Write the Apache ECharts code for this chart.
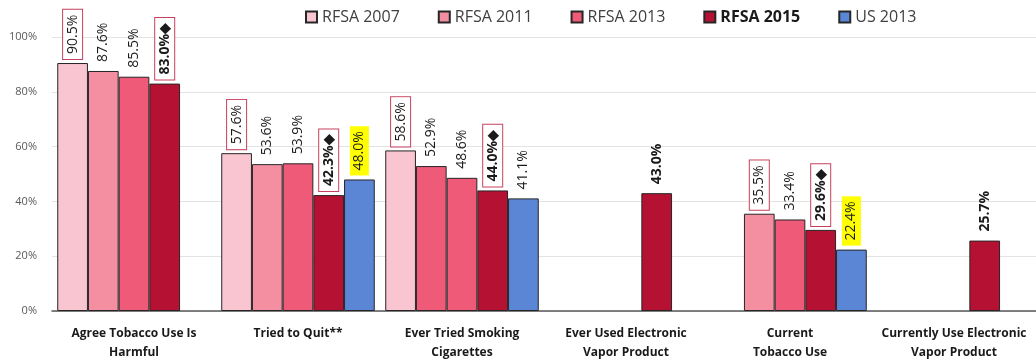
<!DOCTYPE html>
<html>
<head>
<meta charset="utf-8">
<script src="https://cdn.jsdelivr.net/npm/echarts@6/dist/echarts.min.js"></script>
<style>
  html, body { margin: 0; padding: 0; background: #fff; }
  #chartmain { width: 1036px; height: 362px; }
</style>
</head>
<body>
<div id="chartmain"></div>
<script>
var categories = ['Agree Tobacco Use Is\nHarmful', 'Tried to Quit**', 'Ever Tried Smoking\nCigarettes',
  'Ever Used Electronic\nVapor Product', 'Current\nTobacco Use', 'Currently Use Electronic\nVapor Product'];
var seriesNames = ['RFSA 2007', 'RFSA 2011', 'RFSA 2013', 'RFSA 2015', 'US 2013'];
var rfsa2007 = [90.5, 57.6, 58.6, null, null, null];
var rfsa2011 = [87.6, 53.6, 52.9, null, 35.5, null];
var rfsa2013 = [85.5, 53.9, 48.6, null, 33.4, null];
var rfsa2015 = [83.0, 42.3, 44.0, 43.0, 29.6, 25.7];
var us2013 = [null, 48.0, 41.1, null, 22.4, null];
var yTicks = [0, 20, 40, 60, 80, 100];

var colors = ['#F8C5D0', '#F48FA2', '#EE5A78', '#B51233', '#5B86D6'];
var boxColor = '#C8405F';

// which labels get a red box / yellow highlight (by series, category index)
var boxed = { 0: [0, 1, 2], 1: [4], 3: [0, 1, 2, 4] };
var yellow = { 4: [1, 4] };

function buildData(values, s) {
  return values.map(function (v, i) {
    if (v === null) return '-';
    var item = { value: v };
    var lab = {};
    if (boxed[s] && boxed[s].indexOf(i) >= 0) {
      lab.borderColor = boxColor;
      lab.borderWidth = 1;
      lab.backgroundColor = '#fff';
    }
    if (yellow[s] && yellow[s].indexOf(i) >= 0) {
      lab.backgroundColor = '#FFFF00';
    }
    item.label = lab;
    // the 2011 bar of "Ever Tried Smoking" is drawn in the 2013 colour
    if (s === 1 && i === 2) item.itemStyle = { color: colors[2] };
    return item;
  });
}

var allValues = [rfsa2007, rfsa2011, rfsa2013, rfsa2015, us2013];
var series = [];
for (var s = 0; s < allValues.length; s++) {
  (function (s) {
    series.push({
      name: seriesNames[s],
      type: 'bar',
      data: buildData(allValues[s], s),
      barGap: '0%',
      barCategoryGap: '6.4%',
      itemStyle: { color: colors[s], borderColor: '#262626', borderWidth: 1 },
      label: {
        show: true,
        position: 'top',
        rotate: 90,
        align: 'left',
        verticalAlign: 'middle',
        distance: 4,
        padding: [3, 5, 2, 5],
        fontFamily: 'Open Sans',
        fontSize: 14,
        color: '#1a1a1a',
        fontWeight: s === 3 ? 'bold' : 'normal',
        formatter: function (p) {
          var txt = p.value.toFixed(1) + '%';
          if (s === 3 && boxed[3].indexOf(p.dataIndex) >= 0) txt += '◆';
          return txt;
        }
      }
    });
  })(s);
}

var option = {
  animation: false,
  legend: {
    data: seriesNames,
    left: 300,
    top: 4,
    icon: 'rect',
    itemWidth: 11,
    itemHeight: 11,
    itemGap: 38,
    textStyle: {
      fontFamily: 'Open Sans',
      fontSize: 16,
      color: '#404040',
      rich: { b: { fontFamily: 'Open Sans', fontSize: 16, fontWeight: 'bold', color: '#1a1a1a' } }
    },
    formatter: function (name) {
      return name === 'RFSA 2015' ? '{b|' + name + '}' : name;
    }
  },
  grid: { left: 52, right: 0, top: 37, bottom: 47 },
  xAxis: {
    type: 'category',
    data: categories,
    axisTick: { show: false },
    axisLine: { lineStyle: { color: '#595959', width: 1.5 } },
    axisLabel: {
      interval: 0,
      margin: 13,
      fontFamily: 'Open Sans',
      fontSize: 12,
      fontWeight: 'bold',
      color: '#1a1a1a',
      lineHeight: 19
    }
  },
  yAxis: {
    type: 'value',
    min: yTicks[0],
    max: yTicks[yTicks.length - 1],
    interval: 20,
    axisLabel: {
      formatter: '{value}%',
      margin: 15,
      fontFamily: 'Open Sans',
      fontSize: 11,
      color: '#595959'
    },
    splitLine: { lineStyle: { color: '#E3E3E3', width: 1 } }
  },
  series: series
};

var myChart = echarts.init(document.getElementById('chartmain'));
myChart.setOption(option);
</script>
</body>
</html>
